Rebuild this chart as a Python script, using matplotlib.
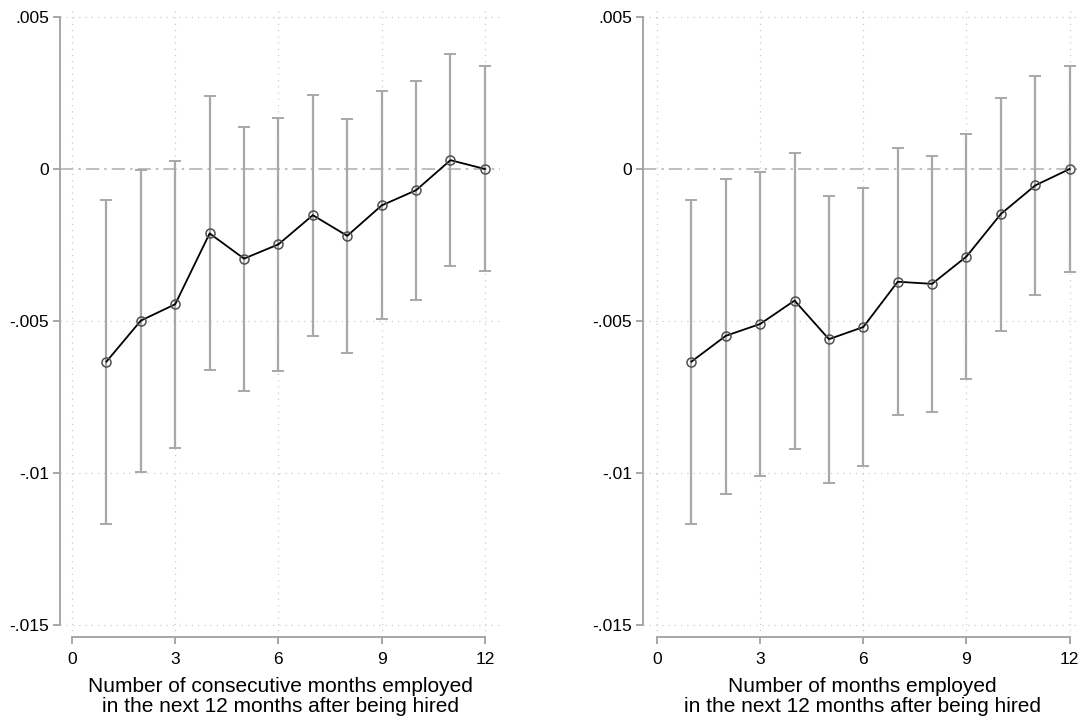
import matplotlib
matplotlib.use("Agg")
import matplotlib.pyplot as plt
import numpy as np

plt.rcParams['font.family'] = ['Liberation Sans', 'DejaVu Sans']

months = [1, 2, 3, 4, 5, 6, 7, 8, 9, 10, 11, 12]

# Left panel: consecutive months employed
left_coef = [-0.00634, -0.00499, -0.00445, -0.00212, -0.00295, -0.00248,
             -0.00152, -0.00220, -0.00120, -0.00070, 0.00029, 0.0]
left_upper = [-0.00102, -0.00003, 0.00027, 0.00240, 0.00137, 0.00169,
              0.00244, 0.00163, 0.00256, 0.00290, 0.00378, 0.00339]
left_lower = [-0.01167, -0.00998, -0.00918, -0.00663, -0.00730, -0.00664,
              -0.00549, -0.00607, -0.00493, -0.00432, -0.00320, -0.00337]

# Right panel: months employed
right_coef = [-0.00634, -0.00549, -0.00510, -0.00433, -0.00560, -0.00520,
              -0.00371, -0.00378, -0.00288, -0.00148, -0.00054, 0.0]
right_upper = [-0.00102, -0.00033, -0.00010, 0.00054, -0.00088, -0.00063,
               0.00068, 0.00043, 0.00114, 0.00235, 0.00306, 0.00340]
right_lower = [-0.01167, -0.01068, -0.01010, -0.00920, -0.01033, -0.00978,
               -0.00808, -0.00799, -0.00691, -0.00533, -0.00414, -0.00340]

x_ticks = [0, 3, 6, 9, 12]
y_ticks = [0.005, 0, -0.005, -0.01, -0.015]
y_ticklabels = ['.005', '0', '-.005', '-.01', '-.015']

xlabels = ["Number of consecutive months employed\nin the next 12 months after being hired",
           "Number of months employed\nin the next 12 months after being hired"]

fig = plt.figure(figsize=(10.81, 7.19), dpi=100)
axes_specs = [
    ([60/1081, 82/719, 440/1081, 630/719], (-0.349, 12.44)),
    ([643/1081, 82/719, 438/1081, 630/719], (-0.407, 12.33)),
]
data = [(left_coef, left_upper, left_lower), (right_coef, right_upper, right_lower)]

grid_col = '#cccccc'
spine_col = '#a0a0a0'
bar_col = '#a8a8a8'

for (rect, xl), (coef, up, lo), lab in zip(axes_specs, data, xlabels):
    ax = fig.add_axes(rect)
    ax.set_xlim(*xl)
    ax.set_ylim(-0.0154, 0.00533)
    # grid
    for xv in x_ticks:
        ax.axvline(xv, color=grid_col, lw=0.9, ls=(0, (1, 4)), zorder=0)
    for yv in [0.005, -0.005, -0.01, -0.015]:
        ax.axhline(yv, color=grid_col, lw=0.9, ls=(0, (1, 4)), zorder=0)
    ax.axhline(0, color='#b4b4b4', lw=1.2, ls=(0, (8, 3, 1.5, 3)), zorder=1)
    # error bars
    coef_a = np.array(coef)
    yerr = np.array([coef_a - np.array(lo), np.array(up) - coef_a])
    ax.errorbar(months, coef, yerr=yerr, fmt='none', ecolor=bar_col,
                elinewidth=1.6, capsize=4, capthick=1.4, zorder=2)
    ax.plot(months, coef, color='black', lw=1.3, zorder=3)
    ax.plot(months, coef, ls='none', marker='o', ms=6.5, mfc='none',
            mec='#505050', mew=1.1, zorder=4)
    # spines
    for s in ['top', 'right']:
        ax.spines[s].set_visible(False)
    ax.spines['left'].set_bounds(-0.015, 0.005)
    ax.spines['bottom'].set_bounds(0, 12)
    ax.spines['left'].set_color(spine_col)
    ax.spines['bottom'].set_color(spine_col)
    ax.spines['left'].set_linewidth(1.3)
    ax.spines['bottom'].set_linewidth(1.3)
    ax.set_xticks(x_ticks)
    ax.set_xticklabels([str(v) for v in x_ticks])
    ax.set_yticks(y_ticks)
    ax.set_yticklabels(y_ticklabels)
    ax.tick_params(axis='both', colors=spine_col, labelcolor='black',
                   labelsize=12.5, length=5, width=1.3, direction='out')
    ax.tick_params(axis='y', pad=3)
    ax.tick_params(axis='x', pad=6)
    ax.set_xlabel(lab, fontsize=15, linespacing=1.08, labelpad=7)
    ax.set_facecolor('white')

fig.savefig('out.png', dpi=100, facecolor='white')
